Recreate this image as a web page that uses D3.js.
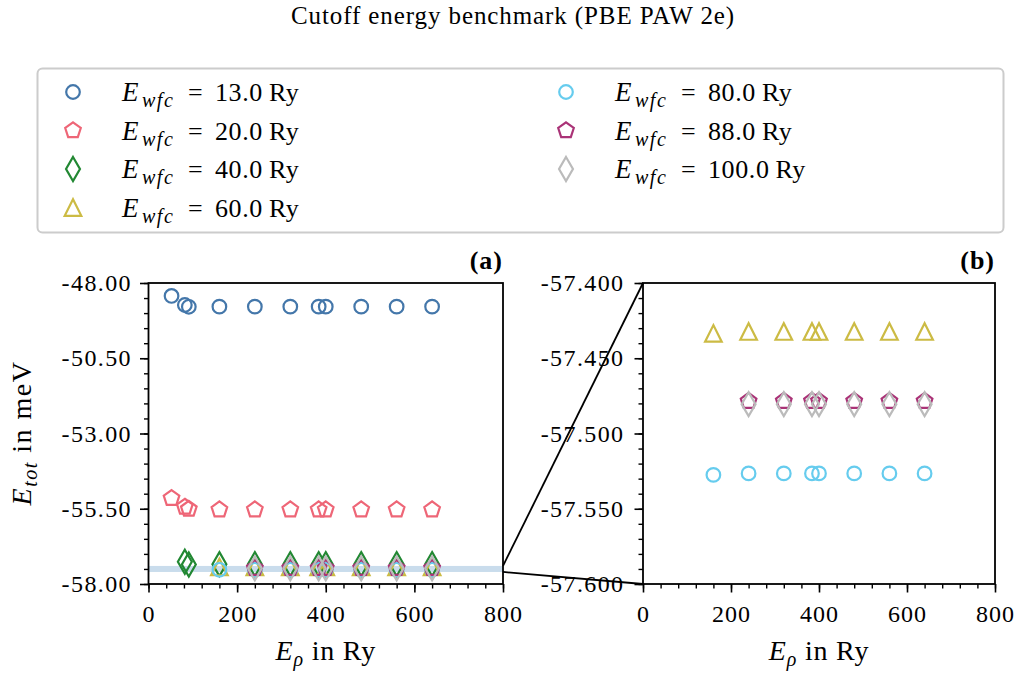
<!DOCTYPE html>
<html><head><meta charset="utf-8">
<script src="https://cdn.jsdelivr.net/npm/d3@7"></script>
<style>
html,body{margin:0;padding:0;background:#fff;}
svg{display:block;}
text{font-family:"Liberation Serif","Times New Roman",serif;fill:#000;}
</style></head>
<body><svg id="chart" width="1020" height="675"></svg>
<script>
// ---------------- data ----------------
const ewfc = [13, 20, 40, 60, 80, 88, 100];
const colors = ["#4477AA", "#EE6677", "#228833", "#CCBB44", "#66CCEE", "#AA3377", "#BBBBBB"];
const markers = ["circle", "pentagon", "thin_diamond", "triangle", "circle", "pentagon", "thin_diamond"];

const rho13 = [52, 82, 91, 160, 240, 320, 384, 400, 480, 560, 640];
const etot13 = [-48.43, -48.73, -48.79, -48.785, -48.785, -48.785, -48.785, -48.785, -48.785, -48.785, -48.785];
const rho20 = [52, 82, 91, 160, 240, 320, 384, 400, 480, 560, 640];
const etot20 = [-55.15, -55.44, -55.51, -55.53, -55.53, -55.53, -55.53, -55.53, -55.53, -55.53, -55.53];
const rho40 = [82, 91, 160, 240, 320, 384, 400, 480, 560, 640];
const etot40 = [-57.26, -57.35, -57.34, -57.34, -57.34, -57.34, -57.34, -57.34, -57.34, -57.34];
const rho60 = [160, 240, 320, 384, 400, 480, 560, 640];
const etot60 = [-57.4335, -57.4322, -57.4322, -57.4322, -57.4322, -57.4322, -57.4322, -57.4322];
const rho80 = [160, 240, 320, 384, 400, 480, 560, 640];
const etot80 = [-57.5275, -57.5265, -57.5265, -57.5265, -57.5265, -57.5265, -57.5265, -57.5265];
const rho88 = [240, 320, 384, 400, 480, 560, 640];
const etot88 = [-57.4785, -57.4785, -57.4785, -57.4785, -57.4785, -57.4785, -57.4785];
const rho100 = [240, 320, 384, 400, 480, 560, 640];
const etot100 = [-57.4805, -57.4805, -57.4805, -57.4805, -57.4805, -57.4805, -57.4805];

const xTicks = [0, 200, 400, 600, 800];
const yTicksA = [-58, -55.5, -53, -50.5, -48];
const yTicksB = [-57.6, -57.55, -57.5, -57.45, -57.4];
const zoomRange = [-57.6, -57.4];
const title = "Cutoff energy benchmark (PBE PAW 2e)";

const series = ewfc.map((e, i) => {
  const xs = [rho13, rho20, rho40, rho60, rho80, rho88, rho100][i];
  const ys = [etot13, etot20, etot40, etot60, etot80, etot88, etot100][i];
  return {ewfc: e, color: colors[i], marker: markers[i], pts: xs.map((x, j) => ({x, y: ys[j]}))};
});

// ---------------- marker shapes ----------------
const shapes = {
  circle: {draw(ctx, r) { ctx.moveTo(r, 0); ctx.arc(0, 0, r, 0, 2 * Math.PI); }},
  pentagon: {draw(ctx, r) {
    for (let k = 0; k < 5; k++) {
      const a = -Math.PI / 2 + k * 2 * Math.PI / 5;
      const px = r * Math.cos(a), py = r * Math.sin(a);
      if (k === 0) ctx.moveTo(px, py); else ctx.lineTo(px, py);
    }
    ctx.closePath();
  }},
  triangle: {draw(ctx, h) { ctx.moveTo(0, -h); ctx.lineTo(-h, h); ctx.lineTo(h, h); ctx.closePath(); }},
  thin_diamond: {draw(ctx, h) { const w = 0.58 * h; ctx.moveTo(0, -h); ctx.lineTo(w, 0); ctx.lineTo(0, h); ctx.lineTo(-w, 0); ctx.closePath(); }}
};
const sizes = {circle: 6.8, pentagon: 8.2, triangle: 8.3, thin_diamond: 12};
const symPath = m => d3.symbol().type(shapes[m]).size(sizes[m])();

// ---------------- layout ----------------
const svg = d3.select("#chart");
const tickFont = 24, labelFont = 28;

svg.append("text").attr("x", 513).attr("y", 24).attr("text-anchor", "middle")
  .attr("font-size", 25).attr("letter-spacing", 0.9).text(title);

// legend
const lg = svg.append("g");
lg.append("rect").attr("x", 37.5).attr("y", 68.5).attr("width", 966).attr("height", 164)
  .attr("rx", 5).attr("fill", "#fff").attr("stroke", "#cccccc").attr("stroke-width", 2);
series.forEach((s, i) => {
  const col = i < 4 ? 0 : 1, row = i < 4 ? i : i - 4;
  const mx = col === 0 ? 73 : 566, ty = 92 + row * 38.5;
  const tx = mx + 49, by = ty + 9;
  lg.append("path").attr("d", symPath(s.marker)).attr("transform", `translate(${mx},${ty})`)
    .attr("fill", "none").attr("stroke", s.color).attr("stroke-width", 2.2);
  const t = lg.append("g");
  t.append("text").attr("x", tx).attr("y", by).attr("font-style", "italic").attr("font-size", 27).text("E");
  t.append("text").attr("x", tx + 20).attr("y", by + 6).attr("font-style", "italic").attr("font-size", 20)
    .attr("letter-spacing", 1.5).text("wfc");
  t.append("text").attr("x", tx + 66).attr("y", by).attr("font-size", 26).text("=");
  const num = t.append("text").attr("x", tx + 93).attr("y", by).attr("font-size", 26).attr("letter-spacing", 0.6)
    .text(s.ewfc.toFixed(1));
  const w = num.node().getComputedTextLength();
  t.append("text").attr("x", tx + 93 + w + 6).attr("y", by).attr("font-size", 26).attr("letter-spacing", 0.5).text("Ry");
});

function panel(cfg) {
  const x = d3.scaleLinear().domain([0, 800]).range([cfg.left, cfg.right]);
  const y = d3.scaleLinear().domain(cfg.ydom).range([584, 283]);
  const g = svg.append("g");
  const cid = "clip" + cfg.name;
  svg.append("defs").append("clipPath").attr("id", cid).append("rect")
    .attr("x", cfg.left).attr("y", 283).attr("width", cfg.right - cfg.left).attr("height", 301);

  if (cfg.band) {
    g.append("rect").attr("x", x(0)).attr("width", x(800) - x(0))
      .attr("y", y(zoomRange[1])).attr("height", y(zoomRange[0]) - y(zoomRange[1]))
      .attr("fill", "#c9dcec");
  }
  const pg = g.append("g").attr("clip-path", `url(#${cid})`);
  series.forEach(s => {
    pg.selectAll(null).data(s.pts).join("path")
      .attr("d", symPath(s.marker))
      .attr("transform", d => `translate(${x(d.x)},${y(d.y)})`)
      .attr("fill", "none").attr("stroke", s.color).attr("stroke-width", 2.2);
  });

  // minor ticks
  const minorX = d3.range(0, 801, 40);
  const minorY = d3.range(0, 21).map(k => cfg.ydom[0] + k * (cfg.ydom[1] - cfg.ydom[0]) / 20);
  g.append("g").attr("transform", "translate(0,584)")
    .call(d3.axisBottom(x).tickValues(minorX).tickSize(4.5).tickFormat(""))
    .call(a => { a.select(".domain").remove(); a.selectAll("line").attr("stroke-width", 1.4); });
  g.append("g").attr("transform", `translate(${cfg.left},0)`)
    .call(d3.axisLeft(y).tickValues(minorY).tickSize(4.5).tickFormat(""))
    .call(a => { a.select(".domain").remove(); a.selectAll("line").attr("stroke-width", 1.4); });
  // major ticks
  g.append("g").attr("transform", "translate(0,584)")
    .call(d3.axisBottom(x).tickValues(xTicks).tickSize(8.5).tickPadding(12).tickFormat(d => String(d)))
    .call(a => { a.select(".domain").remove(); a.selectAll("line").attr("stroke-width", 1.6);
      a.selectAll("text").attr("font-size", tickFont).attr("font-family", "Liberation Serif")
        .attr("letter-spacing", 1).attr("fill", "#000"); });
  g.append("g").attr("transform", `translate(${cfg.left},0)`)
    .call(d3.axisLeft(y).tickValues(cfg.yticks).tickSize(8.5).tickPadding(cfg.pad).tickFormat(d => d.toFixed(cfg.dec)))
    .call(a => { a.select(".domain").remove(); a.selectAll("line").attr("stroke-width", 1.6);
      a.selectAll("text").attr("font-size", tickFont).attr("font-family", "Liberation Serif")
        .attr("letter-spacing", 1.4).attr("fill", "#000"); });

  // frame
  g.append("rect").attr("x", cfg.left).attr("y", 283).attr("width", cfg.right - cfg.left).attr("height", 301)
    .attr("fill", "none").attr("stroke", "#000").attr("stroke-width", 1.8);

  // panel label
  g.append("text").attr("x", cfg.right).attr("y", 269).attr("text-anchor", "end")
    .attr("font-size", 26).attr("font-weight", "bold").attr("letter-spacing", 1).text(cfg.tag);

  // x label
  const xl = g.append("text").attr("x", (cfg.left + cfg.right) / 2).attr("y", 660)
    .attr("text-anchor", "middle").attr("font-size", labelFont).attr("letter-spacing", 0.8);
  xl.append("tspan").attr("font-style", "italic").text("E");
  xl.append("tspan").attr("font-style", "italic").attr("font-size", 20).attr("dy", 6).text("\u03c1");
  xl.append("tspan").attr("dy", -6).text(" in Ry");
  return {x, y};
}

const A = panel({name: "a", left: 148.5, right: 503, ydom: [-58, -48], yticks: yTicksA, dec: 2, pad: 8, band: true, tag: "(a)"});
const B = panel({name: "b", left: 643, right: 995, ydom: [-57.6, -57.4], yticks: yTicksB, dec: 3, pad: 10, band: false, tag: "(b)"});

// y label
const yl = svg.append("text").attr("transform", "translate(31,433) rotate(-90)")
  .attr("text-anchor", "middle").attr("font-size", labelFont).attr("letter-spacing", 1.5);
yl.append("tspan").attr("font-style", "italic").text("E");
yl.append("tspan").attr("font-style", "italic").attr("font-size", 20).attr("dy", 6).text("tot");
yl.append("tspan").attr("dy", -6).text(" in meV");

// connector lines
zoomRange.forEach(v => {
  svg.append("line").attr("x1", A.x(800)).attr("y1", A.y(v)).attr("x2", B.x(0)).attr("y2", B.y(v))
    .attr("stroke", "#000").attr("stroke-width", 1.8);
});
</script></body></html>
